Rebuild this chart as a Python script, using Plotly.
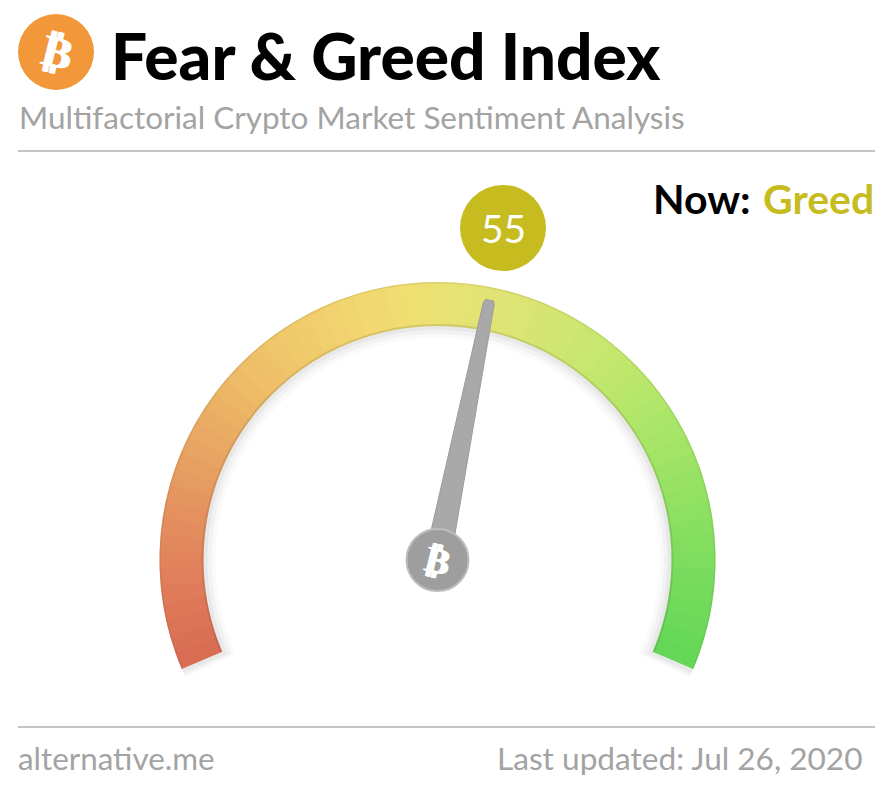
import math

import plotly.graph_objects as go

# the page keeps an 8px body margin, so the figure sits inset in the window
PAGE_W = 890
PAGE_H = 802
PAGE_PAD = 8
WIDTH = PAGE_W - 2 * PAGE_PAD
HEIGHT = PAGE_H - 2 * PAGE_PAD

TITLE = "Fear & Greed Index"
SUBTITLE = "Multifactorial Crypto Market Sentiment Analysis"
STATUS_LABEL = "Now:"
STATUS_VALUE = "Greed"
SCORE = 55
SOURCE = "alternative.me"
UPDATED = "Last updated: Jul 26, 2020"

# gauge colours read along the arc, from 0 (fear) to 100 (greed)
GAUGE_COLORS = [
    "#d96d54", "#da7055", "#dc7357", "#dd7758", "#df7b5a", "#e07f5b", "#e1835c", "#e2885d",
    "#e38c5e", "#e4915f", "#e5965f", "#e69b60", "#e79f61", "#e8a462", "#e9a863", "#eaad64",
    "#ebb165", "#ecb666", "#edba67", "#eebe68", "#efc269", "#f0c66a", "#f0c96b", "#f1cc6c",
    "#f1cf6d", "#f1d26e", "#f1d56f", "#f1d870", "#f0da70", "#efdd71", "#eedf71", "#ece072",
    "#e9e173", "#e6e273", "#e3e374", "#e0e474", "#dde474", "#dae573", "#d6e572", "#d3e671",
    "#cfe670", "#cbe66f", "#c7e76e", "#c3e76d", "#bee76c", "#bae76b", "#b5e76a", "#b0e669",
    "#abe668", "#a6e567", "#a1e466", "#9ce365", "#97e264", "#92e163", "#8de062", "#88df61",
    "#83de60", "#7edd5f", "#79dc5e", "#75db5c", "#70da5b", "#6cd95a", "#68d858", "#65d757",
]

ARC_START = -113.0
ARC_SPAN = 226.0
CENTER_X = 437.5
CENTER_Y = 560
R_INNER = 234
R_OUTER = 278
R_FRAME = 290
SECTOR_DROP = 27


def px_x(x):
    return (x - PAGE_PAD) / WIDTH


def px_y(y):
    return 1 - (y - PAGE_PAD) / HEIGHT


def gauge_angle(value):
    return ARC_START + ARC_SPAN * value / 100


step = 100 / len(GAUGE_COLORS)
segment_theta = [gauge_angle((i + 0.5) * step) for i in range(len(GAUGE_COLORS))]
segment_width = ARC_SPAN / len(GAUGE_COLORS) + 0.2

# the needle is a tapered sliver around the score's angle
needle_angle = gauge_angle(SCORE)
needle_r = [25, 262, 265, 265, 262, 25, 25]
needle_half = [14, 5.5, 4, 4, 5.5, 14, 14]
needle_sign = [-1, -1, -1, 1, 1, 1, -1]
needle_theta = [
    needle_angle + s * math.degrees(math.atan2(h, r))
    for r, h, s in zip(needle_r, needle_half, needle_sign)
]

fig = go.Figure()


def add_band(base, thickness, color, span=ARC_SPAN):
    fig.add_trace(
        go.Barpolar(
            r=[thickness],
            base=[base],
            theta=[gauge_angle(50)],
            width=[span],
            marker=dict(color=color, line=dict(width=0)),
            hoverinfo="skip",
        )
    )


# soft shadow under the arc, a few faint stacked bands
add_band(R_INNER - 12, R_OUTER - R_INNER + 12, "rgba(0,0,0,0.02)", ARC_SPAN + 4)
add_band(R_INNER - 8, R_OUTER - R_INNER + 8, "rgba(0,0,0,0.03)", ARC_SPAN + 3)
add_band(R_INNER - 4, R_OUTER - R_INNER + 4, "rgba(0,0,0,0.04)", ARC_SPAN + 2)

fig.add_trace(
    go.Barpolar(
        r=[R_OUTER - R_INNER] * len(GAUGE_COLORS),
        base=[R_INNER] * len(GAUGE_COLORS),
        theta=segment_theta,
        width=[segment_width] * len(GAUGE_COLORS),
        marker=dict(color=GAUGE_COLORS, line=dict(width=0)),
        hoverinfo="skip",
    )
)

# darker rims on both edges of the arc
add_band(R_INNER, 2, "rgba(90,80,40,0.16)")
add_band(R_OUTER - 1.5, 1.5, "rgba(90,80,40,0.10)")

fig.add_trace(
    go.Scatterpolar(
        r=needle_r,
        theta=needle_theta,
        mode="lines",
        fill="toself",
        fillcolor="#a9a9a9",
        line=dict(color="#9b9b9b", width=1),
        hoverinfo="skip",
    )
)
fig.add_trace(
    go.Scatterpolar(
        r=[0],
        theta=[needle_angle],
        mode="markers",
        marker=dict(size=62, color="#9e9e9e", line=dict(color="#bdbdbd", width=2)),
        hoverinfo="skip",
    )
)

sector_px = R_FRAME * math.sin(math.radians(SECTOR_DROP))

fig.update_layout(
    width=WIDTH,
    height=HEIGHT,
    margin=dict(l=0, r=0, t=0, b=0),
    paper_bgcolor="white",
    showlegend=False,
    polar=dict(
        domain=dict(
            x=[px_x(CENTER_X - R_FRAME), px_x(CENTER_X + R_FRAME)],
            y=[px_y(CENTER_Y + sector_px), px_y(CENTER_Y - R_FRAME)],
        ),
        sector=[-SECTOR_DROP, 180 + SECTOR_DROP],
        bgcolor="rgba(0,0,0,0)",
        radialaxis=dict(visible=False, range=[0, R_FRAME]),
        angularaxis=dict(visible=False, rotation=90, direction="clockwise"),
        barmode="overlay",
    ),
)


def add_circle(cx, cy, radius, color, layer="above"):
    fig.add_shape(
        type="circle",
        xref="paper",
        yref="paper",
        x0=px_x(cx - radius),
        x1=px_x(cx + radius),
        y0=px_y(cy + radius),
        y1=px_y(cy - radius),
        fillcolor=color,
        line=dict(width=0),
        layer=layer,
    )


def add_rule(y):
    fig.add_shape(
        type="line",
        xref="paper",
        yref="paper",
        x0=px_x(18),
        x1=px_x(875),
        y0=px_y(y),
        y1=px_y(y),
        line=dict(color="#b0b0b0", width=1.5),
    )


def add_text(text, x, y, size, color, anchor="left", family="Lato", weight=None, angle=0, shadow=None):
    font = dict(family=family, size=size, color=color)
    if weight:
        font["weight"] = weight
    if shadow:
        font["shadow"] = shadow
    fig.add_annotation(
        text=text,
        xref="paper",
        yref="paper",
        x=px_x(x),
        y=px_y(y),
        xanchor=anchor,
        yanchor="middle",
        showarrow=False,
        font=font,
        textangle=angle,
    )


THICKEN = "1px 0 0 white, -1px 0 0 white"

add_rule(151)
add_rule(727)
add_circle(56, 52, 38, "#f3983a")
add_circle(503, 228, 43, "#c6bc1f")

add_text("₿", 57, 52, 44, "white", anchor="center", family="DejaVu Sans", weight="bold", angle=14, shadow=THICKEN)
add_text(TITLE, 109, 55, 64, "black", weight=900)
add_text(SUBTITLE, 17, 117, 31.5, "#a3a3a3")
add_text(str(SCORE), 503, 228, 39, "white", anchor="center")
add_text(STATUS_LABEL, 651, 199, 41, "black", weight=700)
add_text(STATUS_VALUE, 761, 199, 41, "#c6bc1f", weight=700)
add_text("₿", CENTER_X, 560, 36, "white", anchor="center", family="DejaVu Sans", weight="bold", angle=14, shadow=THICKEN)
add_text(SOURCE, 16, 758, 31.4, "#a3a3a3")
add_text(UPDATED, 865, 758, 31.6, "#a3a3a3", anchor="right")

fig.write_html("out.html")
